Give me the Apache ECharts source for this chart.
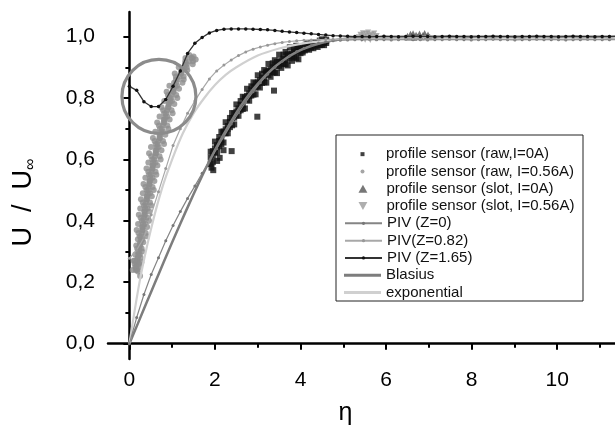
<!DOCTYPE html>
<html><head><meta charset="utf-8">
<script src="https://cdn.jsdelivr.net/npm/echarts@6/dist/echarts.min.js"></script>
<style>html,body{margin:0;padding:0;background:#fff}#c{width:615px;height:432px}</style>
</head><body><div id="c"></div>
<script>
// ---------- ticks ----------
const xMajorTicks = [0, 2, 4, 6, 8, 10];
const xMinorTicks = [1, 3, 5, 7, 9, 11];
const yMajorTicks = [0, 0.2, 0.4, 0.6, 0.8, 1.0];
const yMinorTicks = [0.1, 0.3, 0.5, 0.7, 0.9];

// ---------- PIV profiles ----------
const etaPIV = [0,0.17,0.34,0.51,0.68,0.85,1.02,1.19,1.36,1.53,
 1.70,1.87,2.04,2.21,2.38,2.55,2.72,2.89,3.06,3.23,
 3.40,3.57,3.74,3.91,4.08,4.25,4.42,4.59,4.76,4.93,
 5.10,5.27,5.44,5.61,5.78,5.95,6.12,6.29,6.46,6.63,
 6.80,6.97,7.14,7.31,7.48,7.65,7.82,7.99,8.16,8.33,
 8.50,8.67,8.84,9.01,9.18,9.35,9.52,9.69,9.86,10.03,
 10.20,10.37,10.54,10.71,10.88,11.05,11.22,11.39];
const uPIV0 = [0,0.085,0.160,0.225,0.280,0.335,0.385,0.430,0.473,0.513,
 0.555,0.595,0.635,0.675,0.715,0.752,0.787,0.820,0.850,0.877,
 0.900,0.920,0.937,0.951,0.962,0.971,0.978,0.983,0.986,0.988,
 0.989,0.990,0.990,0.991,0.990,0.990,0.989,0.990,0.991,0.990,
 0.990,0.989,0.990,0.990,0.991,0.990,0.990,0.989,0.990,0.990,
 0.991,0.990,0.990,0.989,0.990,0.990,0.991,0.990,0.990,0.990,
 0.989,0.990,0.990,0.991,0.990,0.990,0.990,0.990];
const uPIV082 = [0.278,0.305,0.345,0.420,0.495,0.570,0.645,0.700,0.750,0.790,
 0.828,0.862,0.888,0.907,0.924,0.938,0.950,0.959,0.966,0.972,
 0.977,0.981,0.984,0.986,0.988,0.989,0.990,0.991,0.991,0.992,
 0.992,0.992,0.993,0.992,0.992,0.993,0.992,0.992,0.992,0.993,
 0.992,0.992,0.993,0.992,0.992,0.992,0.993,0.992,0.992,0.992,
 0.993,0.992,0.992,0.992,0.993,0.992,0.992,0.992,0.993,0.992,
 0.992,0.992,0.993,0.992,0.992,0.992,0.993,0.992];
const uPIV165 = [0.838,0.825,0.788,0.772,0.772,0.795,0.838,0.888,0.945,0.978,
 0.997,1.012,1.020,1.024,1.025,1.025,1.025,1.024,1.023,1.022,
 1.020,1.017,1.015,1.013,1.011,1.009,1.007,1.005,1.003,1.002,
 1.001,1.000,1.000,0.999,1.000,1.001,1.000,0.999,1.000,1.001,
 1.000,1.000,0.999,1.000,1.001,1.000,1.000,0.999,1.000,1.000,
 1.001,1.000,1.000,0.999,1.000,1.000,1.001,1.000,1.000,0.999,
 1.000,1.001,1.000,1.000,0.999,1.000,1.000,1.001];

// ---------- theoretical profiles ----------
const etaBlasius = [0,0.2,0.4,0.6,0.8,1.0,1.2,1.4,1.6,1.8,2.0,2.2,2.4,2.6,2.8,3.0,3.2,3.4,3.6,3.8,4.0,4.2,4.4,4.6,4.8,5.0,5.4,5.8,6.2,7.0,8.0,11.4];
const uBlasius = [0,0.066,0.133,0.199,0.265,0.330,0.394,0.456,0.517,0.575,0.630,0.681,0.729,0.773,0.812,0.846,0.876,0.902,0.923,0.941,0.956,0.967,0.976,0.983,0.988,0.992,0.996,0.998,0.999,1.0,1.0,1.0];
const etaExp = [0,0.25,0.5,0.75,1.0,1.25,1.5,1.75,2.0,2.25,2.5,3.0,3.5,4.0,4.5,5.0,6.0,7.0,8.0,11.4];
const uExp = [0,0.21,0.37,0.50,0.60,0.685,0.75,0.80,0.842,0.875,0.90,0.938,0.961,0.976,0.985,0.99,0.996,0.999,1.0,1.0];

// ---------- profile sensor raw, I=0A : rows [eta, U1, U2, U3] ----------
const rawI0Rows = [
 [1.90,.625,.585,.606],[1.95,.627,.591,.612],[2.00,.658,.622,.636],[2.05,.647,.623,.640],
 [2.10,.673,.643,.660],[2.15,.690,.650,.664],[2.20,.691,.655,.686],[2.25,.721,.685,.698],
 [2.30,.709,.685,.700],[2.35,.735,.705,.722],[2.40,.751,.711,.734],[2.45,.750,.714,.736],
 [2.50,.779,.743,.756],[2.55,.766,.742,.758],[2.60,.790,.760,.777],[2.65,.804,.764,.778],
 [2.70,.802,.766,.797],[2.75,.830,.794,.807],[2.80,.815,.791,.806],[2.85,.838,.808,.825],
 [2.90,.851,.811,.834],[2.95,.848,.812,.834],[3.00,.874,.838,.851],[3.05,.858,.834,.850],
 [3.10,.879,.849,.866],[3.15,.891,.851,.865],[3.20,.886,.850,.881],[3.25,.911,.875,.888],
 [3.30,.893,.869,.885],[3.35,.913,.883,.900],[3.40,.923,.883,.906],[3.45,.917,.881,.903],
 [3.50,.941,.905,.918],[3.55,.922,.898,.914],[3.60,.941,.911,.928],[3.65,.950,.910,.924],
 [3.70,.942,.906,.937],[3.75,.965,.929,.942],[3.80,.945,.921,.937],[3.85,.963,.933,.950],
 [3.90,.970,.930,.953],[3.95,.962,.926,.948],[4.00,.969,.946,.960],[4.05,.960,.948,.954],
 [4.10,.970,.955,.966],[4.15,.978,.960,.962],[4.20,.969,.957,.971],[4.25,.979,.964,.966],
 [4.30,.977,.962,.975],[4.35,.982,.970,.972],[4.40,.978,.966,.980],[4.45,.987,.972,.976],
 [4.50,.991,.973,.983],[4.55,.984,.972,.979],[4.60,.990,.979,.985]];
const rawI0Outliers = [[1.92,0.573],[1.96,0.565],[2.11,0.605],[2.05,0.595],[2.39,0.627],[2.99,0.739],[3.38,0.824],[2.20,0.630]];

// ---------- profile sensor raw, I=0.56A : rows [U, eta1, eta2, eta3] ----------
const rawI056Rows = [
 [0.24,.078,.182,.15],[0.25,.136,.24,.16],[0.26,.122,.226,.17],[0.27,.10,.188,.18],
 [0.28,.192,.264,.20],[0.29,.138,.242,.21],[0.30,.196,.30,.22],[0.31,.182,.286,.23],
 [0.32,.16,.248,.24],[0.33,.252,.324,.26],[0.34,.198,.302,.27],[0.35,.241,.41,.28],
 [0.36,.212,.381,.29],[0.37,.17,.313,.30],[0.38,.297,.414,.31],[0.39,.203,.372,.32],
 [0.40,.291,.46,.33],[0.41,.262,.431,.34],[0.42,.22,.363,.35],[0.43,.347,.464,.36],
 [0.44,.253,.422,.37],[0.45,.341,.51,.38],[0.46,.312,.481,.39],[0.47,.27,.413,.40],
 [0.48,.407,.524,.42],[0.49,.313,.482,.43],[0.50,.401,.57,.44],[0.51,.372,.541,.45],
 [0.52,.33,.473,.46],[0.53,.467,.584,.48],[0.54,.373,.542,.49],[0.55,.461,.63,.50],
 [0.56,.442,.611,.52],[0.57,.40,.543,.53],[0.58,.537,.654,.55],[0.59,.443,.612,.56],
 [0.60,.535,.73,.58],[0.61,.51,.705,.60],[0.62,.46,.625,.61],[0.63,.615,.75,.63],
 [0.64,.505,.685,.64],[0.65,.615,.81,.66],[0.66,.59,.785,.68],[0.67,.55,.715,.70],
 [0.68,.705,.84,.72],[0.69,.605,.785,.74],[0.70,.715,.91,.76],[0.71,.69,.885,.78],
 [0.72,.65,.815,.80],[0.73,.805,.94,.82],[0.74,.705,.885,.84],[0.75,.815,1.01,.86],
 [0.76,.79,.985,.88],[0.77,.75,.915,.90],[0.78,.915,1.05,.93],[0.79,.815,.995,.95],
 [0.80,.925,1.12,.97],[0.81,.90,1.095,.99],[0.82,.87,1.035,1.02],[0.83,1.025,1.16,1.04],
 [0.84,.935,1.115,1.07],[0.85,1.045,1.24,1.09],[0.86,1.088,1.27,1.13],[0.87,1.086,1.268,1.17],
 [0.88,1.06,1.214,1.20],[0.89,1.226,1.352,1.24],[0.90,1.154,1.34,1.28],[0.91,1.298,1.48,1.34],
 [0.92,1.306,1.488,1.39],[0.93,1.31,1.464,1.45]];
const rawI056Extra = [[1.50,0.935],[1.55,0.925],[1.40,0.94],[0.25,0.22],[0.17,0.25],[0.20,0.235],[0.28,0.265],[0.12,0.27]];

// ---------- profile sensor slot ----------
const slotI0 = [[6.50,1.003],[6.54,0.997],[6.57,1.009],[6.60,1.001],[6.63,1.011],[6.66,0.996],[6.70,1.006],[6.74,1.000],[6.78,1.010],[6.82,0.998],[6.86,1.005],[6.90,1.012],[6.94,1.000],[6.98,1.007],[7.02,0.999]];
const slotI056 = [[5.36,0.998],[5.40,1.006],[5.42,0.992],[5.46,1.011],[5.48,1.000],[5.51,0.990],[5.53,1.008],[5.56,0.996],[5.58,1.013],[5.61,1.003],[5.63,0.989],[5.66,1.007],[5.69,0.997],[5.72,1.010],[5.75,0.994],[5.78,1.002]];

// annotation circle (data coordinates of its centre)
const circleCenter = [0.69, 0.805];

// ---------- build ----------
const zip = (xs, ys) => xs.map((x, i) => [x, ys[i]]);
const rawI0Pts = [];
rawI0Rows.forEach(r => { rawI0Pts.push([r[0], r[1]], [r[0], r[2]], [r[0], r[3]]); });
rawI0Outliers.forEach(p => rawI0Pts.push(p));
const rawI056Pts = [];
rawI056Rows.forEach(r => { rawI056Pts.push([r[1], r[0]], [r[2], r[0]], [r[3], r[0]]); });
rawI056Extra.forEach(p => rawI056Pts.push(p));

const FF = '"Liberation Sans", Arial, Helvetica, sans-serif';
const N = {
  raw0: 'profile sensor (raw,I=0A)',
  raw56: 'profile sensor (raw, I=0.56A)',
  slot0: 'profile sensor (slot, I=0A)',
  slot56: 'profile sensor (slot, I=0.56A)',
  p0: 'PIV (Z=0)', p82: 'PIV(Z=0.82)', p165: 'PIV (Z=1.65)',
  bl: 'Blasius', ex: 'exponential'
};
const legendCommon = {
  orient: 'vertical', padding: 0, itemWidth: 37, itemGap: 0,
  selectedMode: false,
  textStyle: { fontSize: 15, lineHeight: 17.3, color: '#111', fontFamily: FF }
};
const ICON_SQUARE = 'path://M0,0H10V10H0Z';
const ICON_UP = 'path://M5,0L10,9H0Z';
const ICON_DOWN = 'path://M0,0H10L5,9Z';
const ICON_BAR = 'path://M0,0H37V3H0Z';
const fmtY = v => v.toFixed(1).replace('.', ',');

const chart = echarts.init(document.getElementById('c'));
chart.setOption({
  animation: false,
  backgroundColor: '#fff',
  grid: { left: 108, right: 0, top: 12, bottom: 73, containLabel: false, outerBoundsMode: 'none' },
  xAxis: [
    { type: 'value', min: -0.5, max: 11.35, position: 'bottom',
      axisLine: { lineStyle: { color: '#000', width: 2.5 } },
      axisTick: { customValues: xMajorTicks, length: 6, lineStyle: { color: '#000', width: 2 } },
      axisLabel: { customValues: xMajorTicks, margin: 11, fontSize: 21, color: '#000', fontFamily: FF },
      splitLine: { show: false },
      name: 'η', nameLocation: 'middle', nameGap: 42,
      nameTextStyle: { fontSize: 25, color: '#000', fontFamily: FF, padding: [0, 32, 0, 0] } },
    { type: 'value', min: -0.5, max: 11.35, position: 'bottom', gridIndex: 0,
      axisLine: { show: false },
      axisTick: { customValues: xMinorTicks, length: 4, lineStyle: { color: '#000', width: 2 } },
      axisLabel: { show: false }, splitLine: { show: false } }
  ],
  yAxis: [
    { type: 'value', min: -0.05, max: 1.08, position: 'left',
      axisLine: { show: true, lineStyle: { color: '#000', width: 2.5 } },
      axisTick: { show: true, customValues: yMajorTicks, length: 6, lineStyle: { color: '#000', width: 2 } },
      axisLabel: { customValues: yMajorTicks, margin: 13, fontSize: 21, color: '#000', fontFamily: FF, formatter: fmtY },
      splitLine: { show: false },
      name: '{m|U  /  U}{s|∞}', nameLocation: 'middle', nameGap: 68,
      nameTextStyle: { fontFamily: FF, color: '#000', padding: [0, 34, 0, 0],
        rich: { m: { fontSize: 27, fontFamily: FF, color: '#000', lineHeight: 32, verticalAlign: 'middle' },
                s: { fontSize: 16, fontFamily: FF, color: '#000', lineHeight: 32, verticalAlign: 'bottom', padding: [0, 0, 1, 0] } } } },
    { type: 'value', min: -0.05, max: 1.08, position: 'left', gridIndex: 0,
      axisLine: { show: false },
      axisTick: { show: true, customValues: yMinorTicks, length: 4, lineStyle: { color: '#000', width: 2 } },
      axisLabel: { show: false }, splitLine: { show: false } }
  ],
  legend: [
    Object.assign({}, legendCommon, { left: 360.5, top: 145.5, itemHeight: 4, data: [
      { name: N.raw0, icon: ICON_SQUARE }, { name: N.raw56, icon: 'circle' } ] }),
    Object.assign({}, legendCommon, { left: 358.5, top: 180.1, itemHeight: 8, data: [
      { name: N.slot0, icon: ICON_UP }, { name: N.slot56, icon: ICON_DOWN } ] }),
    Object.assign({}, legendCommon, { left: 344, top: 214.7, itemHeight: 4, data: [N.p0, N.p82, N.p165] }),
    Object.assign({}, legendCommon, { left: 344, top: 266.6, itemHeight: 13, data: [
      { name: N.bl, icon: ICON_BAR }, { name: N.ex, icon: ICON_BAR } ] })
  ],
  series: [
    { name: N.raw0, type: 'scatter', data: rawI0Pts, symbol: 'rect', symbolSize: 6,
      itemStyle: { color: '#111' }, silent: true },
    { name: N.raw56, type: 'scatter', data: rawI056Pts, symbol: 'circle', symbolSize: 6,
      itemStyle: { color: '#8e8e8e' }, silent: true },
    { name: N.slot0, type: 'scatter', data: slotI0, symbol: 'triangle', symbolSize: 6,
      itemStyle: { color: '#555' }, silent: true },
    { name: N.slot56, type: 'scatter', data: slotI056, symbol: 'triangle', symbolRotate: 180, symbolSize: 6,
      itemStyle: { color: '#9a9a9a' }, silent: true },
    { name: N.bl, type: 'line', data: zip(etaBlasius, uBlasius), symbol: 'none', smooth: 0.2,
      lineStyle: { color: '#7d7d7d', width: 2.5 }, itemStyle: { color: '#7d7d7d' }, silent: true },
    { name: N.ex, type: 'line', data: zip(etaExp, uExp), symbol: 'none', smooth: 0.3,
      lineStyle: { color: '#d0d0d0', width: 2.2 }, itemStyle: { color: '#d0d0d0' }, silent: true },
    { name: N.p0, type: 'line', data: zip(etaPIV, uPIV0), symbol: 'circle', symbolSize: 3, showAllSymbol: true,
      lineStyle: { color: '#858585', width: 1.2 }, itemStyle: { color: '#777' }, silent: true },
    { name: N.p82, type: 'line', data: zip(etaPIV, uPIV082), symbol: 'circle', symbolSize: 3, showAllSymbol: true,
      lineStyle: { color: '#a8a8a8', width: 1.2 }, itemStyle: { color: '#999' }, silent: true },
    { name: N.p165, type: 'line', data: zip(etaPIV, uPIV165), symbol: 'circle', symbolSize: 3.5, showAllSymbol: true,
      lineStyle: { color: '#333', width: 1.3 }, itemStyle: { color: '#111' }, silent: true }
  ]
});

const cc = chart.convertToPixel({ xAxisIndex: 0, yAxisIndex: 0 }, circleCenter);
chart.setOption({
  graphic: [
    { type: 'rect', shape: { x: 336, y: 135, width: 247, height: 166 }, z: -10,
      style: { fill: '#fff', stroke: '#222', lineWidth: 1 }, silent: true },
    { type: 'circle', shape: { cx: cc[0], cy: cc[1], r: 37 }, z: 100,
      style: { fill: 'none', stroke: '#8c8c8c', lineWidth: 3.2 }, silent: true }
  ]
});
</script></body></html>
